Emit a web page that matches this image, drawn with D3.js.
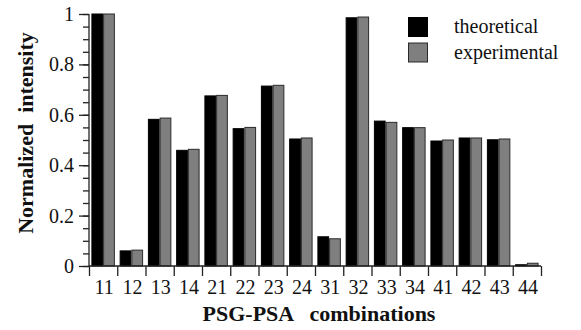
<!DOCTYPE html>
<html>
<head>
<meta charset="utf-8">
<script src="https://cdn.jsdelivr.net/npm/d3@7"></script>
<style>
  body { margin: 0; background: #fff; }
</style>
</head>
<body>
<script>
// PSG-PSA combinations and the two normalized intensity series
var combos = ["11", "12", "13", "14", "21", "22", "23", "24",
              "31", "32", "33", "34", "41", "42", "43", "44"];
var theoretical = [1.0, 0.060, 0.582, 0.459, 0.675, 0.545, 0.714, 0.504,
                   0.116, 0.985, 0.575, 0.549, 0.496, 0.508, 0.501, 0.005];
var experimental = [1.0, 0.063, 0.587, 0.463, 0.677, 0.550, 0.717, 0.508,
                    0.108, 0.988, 0.570, 0.549, 0.500, 0.508, 0.504, 0.011];
var seriesNames = ["theoretical", "experimental"];
var yTicks = [0, 0.2, 0.4, 0.6, 0.8, 1];

var width = 581, height = 330;
var padLeft = 89, padRight = 541, padTop = 14, padBottom = 266;
var serif = "'Liberation Serif', 'Times New Roman', serif";

var svg = d3.select("body").append("svg")
    .attr("width", width)
    .attr("height", height);

var colors = d3.scaleOrdinal()
    .domain(seriesNames)
    .range(["#000000", "#7f7f7f"]);
var strokes = d3.scaleOrdinal()
    .domain(seriesNames)
    .range(["#000000", "#2a2a2a"]);

//band scale for the combinations, sub band for the two series
var xScale = d3.scaleBand()
    .domain(combos)
    .range([padLeft, padRight])
    .paddingInner(0.17)
    .paddingOuter(0.085);

var xSub = d3.scaleBand()
    .domain(seriesNames)
    .range([0, xScale.bandwidth()]);

//boundary ticks on x axis sit between the groups
var xEdges = d3.scaleLinear()
    .domain([0, combos.length])
    .range([padLeft, padRight]);

var yScale = d3.scaleLinear()
    .domain([0, 1])
    .range([padBottom, padTop]);

var rows = combos.map(function (c, i) {
    return { combo: c, values: [
        { name: "theoretical", v: theoretical[i] },
        { name: "experimental", v: experimental[i] }
    ] };
});

//bars
var groups = svg.selectAll("g.group")
    .data(rows)
    .enter()
    .append("g")
    .attr("class", "group")
    .attr("transform", function (d) {
        return "translate(" + xScale(d.combo) + ",0)";
    });

groups.selectAll("rect")
    .data(function (d) { return d.values; })
    .enter()
    .append("rect")
    .attr("x", function (d) { return xSub(d.name) + 0.5; })
    .attr("width", xSub.bandwidth() - 1)
    .attr("y", function (d) { return yScale(d.v); })
    .attr("height", function (d) { return yScale(0) - yScale(d.v); })
    .attr("fill", function (d) { return colors(d.name); })
    .attr("stroke", function (d) { return strokes(d.name); })
    .attr("stroke-width", 1);

//y axis, major and minor ticks
svg.append("g")
    .attr("transform", "translate(" + padLeft + ",0)")
    .call(d3.axisLeft(yScale).tickValues(d3.range(0, 1.001, 0.05)).tickSize(6).tickFormat(""))
    .call(function (g) { g.select(".domain").remove(); });

var yAxis = svg.append("g")
    .attr("transform", "translate(" + padLeft + ",0)")
    .attr("font-family", serif)
    .call(d3.axisLeft(yScale).tickValues(yTicks).tickSize(10).tickPadding(5)
        .tickFormat(function (d) { return d === 0 || d === 1 ? d : d3.format(".1f")(d); }))
    .call(function (g) { g.select(".domain").attr("d", "M0," + padBottom + "V" + padTop); });

yAxis.selectAll("text")
    .style("font-family", serif)
    .style("font-size", "20px")
    .attr("fill", "#111")
    .attr("dy", "0.32em");

//x axis: boundary ticks and centered labels
svg.append("g")
    .attr("transform", "translate(0," + padBottom + ")")
    .call(d3.axisBottom(xEdges).tickValues(d3.range(combos.length + 1)).tickSize(10).tickFormat(""))
    .call(function (g) { g.select(".domain").attr("d", "M" + padLeft + ",0H" + padRight); });

var xAxis = svg.append("g")
    .attr("transform", "translate(1," + padBottom + ")")
    .call(d3.axisBottom(xScale).tickSize(0));
xAxis.select(".domain").remove();
xAxis.selectAll("text")
    .style("font-family", serif)
    .style("font-size", "20px")
    .attr("fill", "#111")
    .attr("y", 28)
    .attr("dy", 0);

svg.selectAll(".domain, .tick line")
    .attr("stroke", "#222")
    .attr("stroke-width", 1.3);

//axis titles
svg.append("text")
    .attr("x", 319)
    .attr("y", 321)
    .attr("text-anchor", "middle")
    .style("font-family", serif)
    .style("font-size", "22px")
    .style("font-weight", "bold")
    .style("white-space", "pre")
    .attr("fill", "#111")
    .text("PSG-PSA   combinations");

svg.append("text")
    .attr("transform", "translate(33,133) rotate(-90)")
    .attr("text-anchor", "middle")
    .style("font-family", serif)
    .style("font-size", "22px")
    .style("font-weight", "bold")
    .style("white-space", "pre")
    .attr("fill", "#111")
    .text("Normalized  intensity");

//legend
var legend = svg.selectAll("g.legend")
    .data(seriesNames)
    .enter()
    .append("g")
    .attr("class", "legend")
    .attr("transform", function (d, i) {
        return "translate(408," + (17 + i * 25.5) + ")";
    });

legend.append("rect")
    .attr("x", 0.5)
    .attr("y", 0.5)
    .attr("width", 19)
    .attr("height", 19)
    .attr("fill", function (d) { return colors(d); })
    .attr("stroke", function (d) { return strokes(d); })
    .attr("stroke-width", 1);

legend.append("text")
    .attr("x", 46)
    .attr("y", 16)
    .style("font-family", serif)
    .style("font-size", "20px")
    .attr("fill", "#111")
    .text(function (d) { return d; });
</script>
</body>
</html>
